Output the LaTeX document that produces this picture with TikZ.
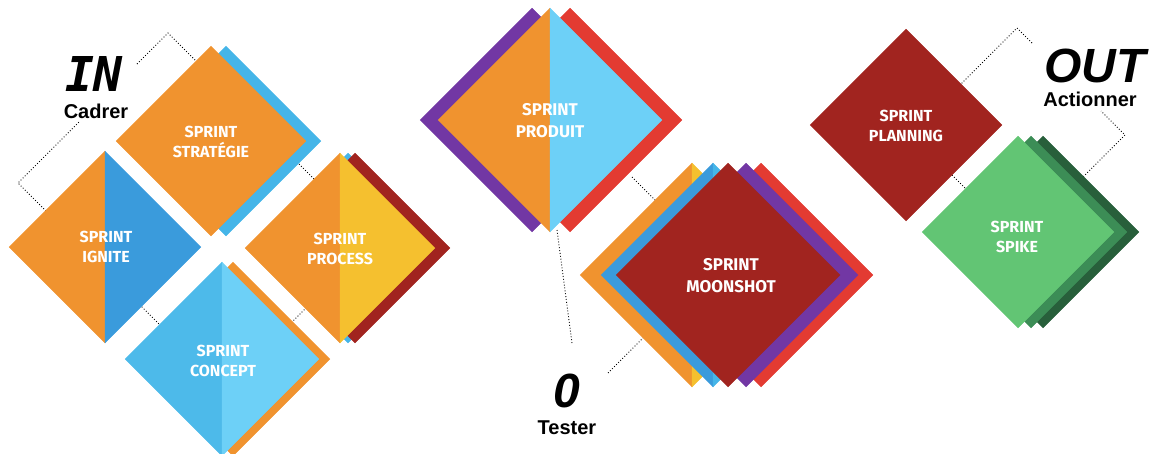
\documentclass[tikz,border=0pt]{standalone}
\usepackage{fontspec}
\setmainfont{Liberation Sans}
\newfontfamily\labfont{Fira Sans}
\newfontfamily\inmono{DejaVu Sans Mono}
\definecolor{corange}{HTML}{F0932F}
\definecolor{cblueS}{HTML}{45B5E8}
\definecolor{cblueI}{HTML}{3A9BDC}
\definecolor{cyellow}{HTML}{F5C02F}
\definecolor{cdred}{HTML}{A1241F}
\definecolor{cblueC}{HTML}{4DBAEA}
\definecolor{clightblue}{HTML}{6DD0F7}
\definecolor{cpurple}{HTML}{7237A4}
\definecolor{cred}{HTML}{E33B32}
\definecolor{cgreen}{HTML}{62C574}
\definecolor{cmgreen}{HTML}{3C8D56}
\definecolor{cdgreen}{HTML}{285F3B}
\newcommand\mydia[4]{\filldraw[fill=#4,draw=#4,line width=0.2pt] ({#1-#3},#2) -- (#1,{#2-#3}) -- ({#1+#3},#2) -- (#1,{#2+#3}) -- cycle;}
\newcommand\mydiatwo[5]{\filldraw[fill=#4,draw=#4,line width=0.2pt] ({#1-#3},#2) -- (#1,{#2-#3}) -- (#1,{#2+#3}) -- cycle;
  \filldraw[fill=#5,draw=#5,line width=0.2pt] (#1,{#2-#3}) -- ({#1+#3},#2) -- (#1,{#2+#3}) -- cycle;}
\tikzset{
  frame/.style={black, dotted, line width=0.9pt},
  sprintlabel/.style={text=white, align=center, font=\labfont\bfseries\fontsize{16}{20}\selectfont},
  biglabel/.style={text=white, align=center, font=\labfont\bfseries\fontsize{17}{22}\selectfont},
  bigword/.style={anchor=base, inner sep=0pt, font=\bfseries\itshape\fontsize{48}{48}\selectfont},
  smallword/.style={anchor=base, inner sep=0pt, font=\bfseries\fontsize{20}{20}\selectfont},
}
\begin{document}
\begin{tikzpicture}[x=1pt,y=-1pt]
\useasboundingbox (0,0) rectangle (1149,453);
\clip (0,0) rectangle (1149,453);
% ---------- left group frame ----------
\coordinate (l0) at (137,64);
\coordinate (lt) at (168,33);
\coordinate (lr) at (374.5,239.5);
\coordinate (lb) at (224.5,389.5);
\coordinate (ll) at (18,183);
\coordinate (l1) at (80,121);
\draw[frame] (l0) -- (lt) -- (lr) -- (lb) -- (ll) -- (l1);
% strategy
\mydia{226}{141}{95}{cblueS}
\mydia{211}{141}{95}{corange}
% ignite
\mydiatwo{105}{247}{96}{corange}{cblueI}
% process
\mydia{348}{248}{95}{cblueS}
\mydia{355}{248}{95}{cdred}
\mydiatwo{340}{248}{95}{corange}{cyellow}
% concept
\mydia{233}{359}{97}{corange}
\mydiatwo{222}{359}{97}{cblueC}{clightblue}
\node[sprintlabel] (strat) at (211,142) {SPRINT\\STRATÉGIE};
\node[sprintlabel] (ignite) at (106,247) {SPRINT\\IGNITE};
\node[sprintlabel] (process) at (340,249) {SPRINT\\PROCESS};
\node[sprintlabel] (concept) at (223,361) {SPRINT\\CONCEPT};
\node[bigword, font=\inmono\bfseries\itshape\fontsize{48}{48}\selectfont] (in) at (94,91) {IN};
\node[smallword] (cadrer) at (96,118) {Cadrer};
% ---------- middle group ----------
\coordinate (m1) at (557,230);
\coordinate (m2) at (572,343);
\coordinate (m3) at (632,177);
\coordinate (m4) at (655,200);
\coordinate (m5) at (608,373);
\coordinate (m6) at (643,338);
\draw[frame] (m1) -- (m2);
\draw[frame] (m3) -- (m4);
\draw[frame] (m5) -- (m6);
% produit
\mydia{532}{120}{112}{cpurple}
\mydia{570}{120}{112}{cred}
\mydiatwo{550}{120}{112}{corange}{clightblue}
% moonshot
\mydiatwo{692}{275}{112}{corange}{cyellow}
\mydiatwo{713}{275}{112}{cblueI}{cblueS}
\mydia{761}{275}{112}{cred}
\mydia{746}{275}{112}{cpurple}
\mydia{728}{275}{112}{cdred}
\node[biglabel] (produit) at (550,121) {SPRINT\\PRODUIT};
\node[biglabel] (moonshot) at (731,276) {SPRINT\\MOONSHOT};
\node[bigword] (zero) at (567,407) {0};
\node[smallword] (tester) at (567,434) {Tester};
% ---------- right group ----------
\coordinate (r0) at (1032,43);
\coordinate (rt) at (1017,28);
\coordinate (rl) at (911,134);
\coordinate (rb) at (1018.5,241.5);
\coordinate (rr) at (1125,135);
\coordinate (r1) at (1101,111);
\draw[frame] (r0) -- (rt) -- (rl) -- (rb) -- (rr) -- (r1);
\mydia{906}{125}{96}{cdred}
\mydia{1043}{232}{96}{cdgreen}
\mydia{1031}{232}{96}{cmgreen}
\mydia{1018}{232}{96}{cgreen}
\node[sprintlabel] (planning) at (906,126) {SPRINT\\PLANNING};
\node[sprintlabel] (spike) at (1017,237) {SPRINT\\SPIKE};
\node[bigword] (out) at (1095,82) {OUT};
\node[smallword] (action) at (1090,106) {Actionner};
\end{tikzpicture}
\end{document}
